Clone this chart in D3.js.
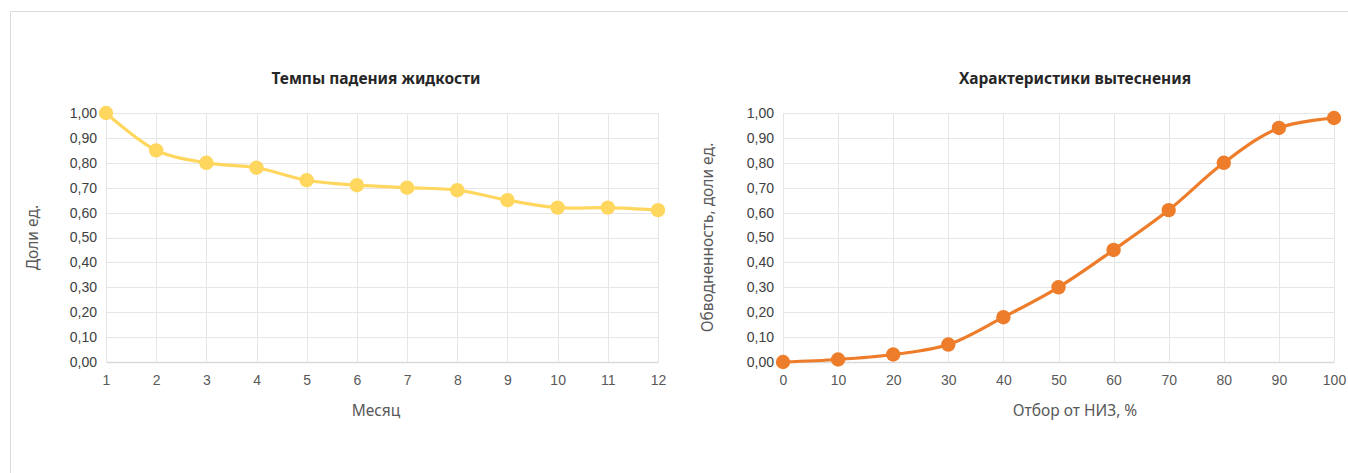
<!DOCTYPE html>
<html>
<head>
<meta charset="utf-8">
<script src="https://cdn.jsdelivr.net/npm/d3@7"></script>
<style>
  html, body { margin: 0; padding: 0; background: #fff; }
  svg { display: block; font-family: "Noto Sans", "Open Sans", sans-serif; }
</style>
</head>
<body>
<svg id="chart" width="1348" height="473"></svg>
<script>
// Liquid decline rate by month
const months = [1, 2, 3, 4, 5, 6, 7, 8, 9, 10, 11, 12];
const declineRates = [1.00, 0.85, 0.80, 0.78, 0.73, 0.71, 0.70, 0.69, 0.65, 0.62, 0.62, 0.61];

// Water cut vs. recovery of initial recoverable reserves
const recoveryPct = [0, 10, 20, 30, 40, 50, 60, 70, 80, 90, 100];
const waterCut = [0.00, 0.01, 0.03, 0.07, 0.18, 0.30, 0.45, 0.61, 0.80, 0.94, 0.98];

const yTicks = [0, 0.1, 0.2, 0.3, 0.4, 0.5, 0.6, 0.7, 0.8, 0.9, 1.0];

const svg = d3.select("#chart");

// outer frame (top and left edges)
svg.append("path")
  .attr("d", "M10.5,473 V11.5 H1348")
  .attr("fill", "none")
  .attr("stroke", "#dcdcdc")
  .attr("stroke-width", 1);

const fmt = d => d.toFixed(2).replace(".", ",");

function drawPanel(cfg) {
  const g = svg.append("g");
  const x = d3.scaleLinear().domain(cfg.xDomain).range([cfg.x0, cfg.x1]);
  const y = d3.scaleLinear().domain([0, 1]).range([cfg.yBottom, cfg.yTop]);

  // horizontal grid
  g.append("g").selectAll("line").data(yTicks.slice(1)).join("line")
    .attr("x1", cfg.x0).attr("x2", cfg.x1)
    .attr("y1", d => Math.round(y(d)) + 0.5).attr("y2", d => Math.round(y(d)) + 0.5)
    .attr("stroke", "#e6e6e6");

  // vertical grid
  g.append("g").selectAll("line").data(cfg.xTicks).join("line")
    .attr("x1", d => Math.round(x(d)) + 0.5).attr("x2", d => Math.round(x(d)) + 0.5)
    .attr("y1", cfg.yTop).attr("y2", cfg.yBottom)
    .attr("stroke", "#e6e6e6");

  // bottom axis
  const xAxis = d3.axisBottom(x).tickValues(cfg.xTicks).tickSize(0).tickPadding(13)
    .tickFormat(d3.format("d"));
  const ax = g.append("g").attr("transform", `translate(0,${cfg.yBottom})`).call(xAxis);
  ax.select(".domain").attr("stroke", "#d9d9d9").attr("stroke-width", 1.3);
  ax.selectAll("text").attr("fill", "#595959").style("font-size", "14px");

  // left axis
  const yAxis = d3.axisLeft(y).tickValues(yTicks).tickSize(0).tickPadding(9).tickFormat(fmt);
  const ay = g.append("g").attr("transform", `translate(${cfg.x0},0)`).call(yAxis);
  ay.select(".domain").remove();
  ay.selectAll("text").attr("fill", "#404040").style("font-size", "14px");

  // title
  g.append("text")
    .attr("x", cfg.titleX).attr("y", 84)
    .attr("text-anchor", "middle")
    .attr("fill", "#262626")
    .style("font-size", "15.5px").style("font-weight", "bold")
    .text(cfg.title);

  // x axis title
  g.append("text")
    .attr("x", cfg.titleX).attr("y", 416)
    .attr("text-anchor", "middle")
    .attr("fill", "#595959")
    .style("font-size", "15.5px")
    .text(cfg.xTitle);

  // y axis title
  g.append("text")
    .attr("transform", `translate(${cfg.yTitleX},${(cfg.yTop + cfg.yBottom) / 2}) rotate(-90)`)
    .attr("text-anchor", "middle")
    .attr("fill", "#595959")
    .style("font-size", "15.5px")
    .text(cfg.yTitle);

  const pts = cfg.xs.map((d, i) => [x(d), y(cfg.ys[i])]);

  g.append("path")
    .attr("d", d3.line().curve(d3.curveCatmullRom.alpha(0.5))(pts))
    .attr("fill", "none")
    .attr("stroke", cfg.color)
    .attr("stroke-width", 3.2)
    .attr("stroke-linejoin", "round");

  g.append("g").selectAll("circle").data(pts).join("circle")
    .attr("cx", d => d[0]).attr("cy", d => d[1])
    .attr("r", 7.2)
    .attr("fill", cfg.color);
}

drawPanel({
  xDomain: [1, 12], xTicks: months, xs: months, ys: declineRates,
  x0: 106, x1: 658, yTop: 113, yBottom: 362,
  title: "Темпы падения жидкости", titleX: 376,
  xTitle: "Месяц", yTitle: "Доли ед.", yTitleX: 38,
  color: "#FFD75E"
});

drawPanel({
  xDomain: [0, 100], xTicks: recoveryPct, xs: recoveryPct, ys: waterCut,
  x0: 783, x1: 1334, yTop: 113, yBottom: 362,
  title: "Характеристики вытеснения", titleX: 1075,
  xTitle: "Отбор от НИЗ, %", yTitle: "Обводненность, доли ед.", yTitleX: 713,
  color: "#EE7D2B"
});
</script>
</body>
</html>
